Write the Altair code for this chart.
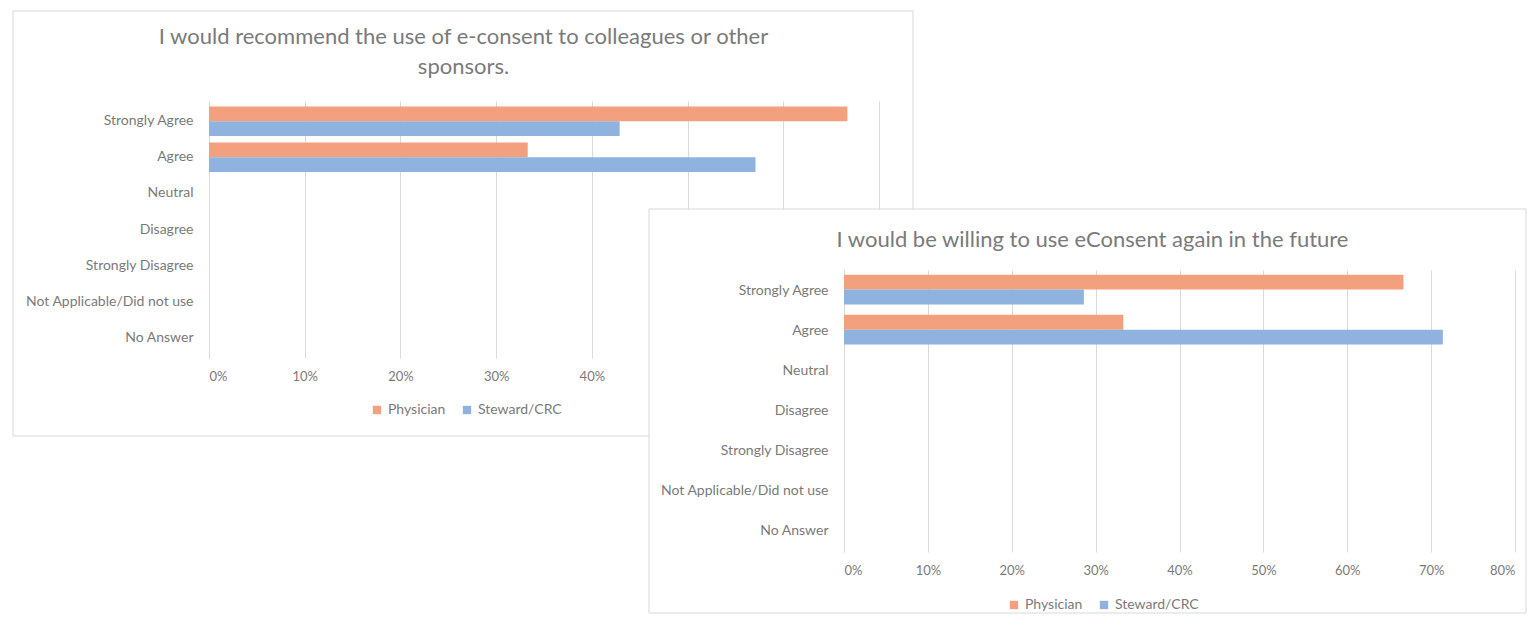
import altair as alt
import pandas as pd

categories = ["Strongly Agree", "Agree", "Neutral", "Disagree", "Strongly Disagree",
              "Not Applicable/Did not use", "No Answer"]
series = ["Physician", "Steward/CRC"]
colors = ["#F3A07F", "#8FB3DE"]

rec_physician = [0.667, 0.333, 0, 0, 0, 0, 0]
rec_steward = [0.429, 0.571, 0, 0, 0, 0, 0]
fut_physician = [0.667, 0.333, 0, 0, 0, 0, 0]
fut_steward = [0.286, 0.714, 0, 0, 0, 0, 0]

title1 = ["I would recommend the use of e-consent to colleagues or other", "sponsors."]
title2 = "I would be willing to use eConsent again in the future"

ticks1 = [0, 0.1, 0.2, 0.3, 0.4, 0.5, 0.6, 0.7]
ticks2 = [0, 0.1, 0.2, 0.3, 0.4, 0.5, 0.6, 0.7, 0.8]

FONT = "Lato"
TXT = "#7a7a7a"
GRID = "#d9d9d9"


def frame(phys, stew):
    rows = []
    for c, p, s in zip(categories, phys, stew):
        rows.append({"answer": c, "series": series[0], "value": p})
        rows.append({"answer": c, "series": series[1], "value": s})
    return pd.DataFrame(rows)


def bars(df, ticks, xmax, xrange, pin, pout, lx, ly):
    return alt.Chart(df).mark_bar().encode(
        x=alt.X("value:Q",
                scale=alt.Scale(domain=[0, xmax], nice=False, range=[0, xrange]),
                axis=alt.Axis(values=ticks, format=".0%", grid=True, gridColor=GRID,
                              domain=False, ticks=False, labelPadding=12, title=None,
                              labelFontSize=13, labelColor=TXT, labelFont=FONT)),
        y=alt.Y("answer:N", sort=categories,
                scale=alt.Scale(paddingInner=pin, paddingOuter=pout),
                axis=alt.Axis(title=None, ticks=False, domainColor=GRID, labelPadding=16,
                              grid=False, labelFontSize=14, labelColor=TXT, labelFont=FONT)),
        yOffset=alt.YOffset("series:N", sort=series),
        color=alt.Color("series:N", sort=series,
                        scale=alt.Scale(domain=series, range=colors),
                        legend=alt.Legend(title=None, orient="none", legendX=lx, legendY=ly,
                                          direction="horizontal", symbolType="square",
                                          symbolSize=70, symbolStrokeWidth=0,
                                          labelFontSize=14, labelColor=TXT, labelFont=FONT,
                                          columnPadding=14)),
    )


box_df = pd.DataFrame({"k": [0]})

box1 = alt.Chart(box_df).mark_rect(fillOpacity=0, stroke=GRID, strokeWidth=1).encode(
    x=alt.value(-196), x2=alt.value(704), y=alt.value(-90), y2=alt.value(335))

c1 = alt.layer(
    box1,
    bars(frame(rec_physician, rec_steward), ticks1, 0.7, 670, 0.18, 0.15, 161, 302),
).properties(
    width=635, height=257,
    title=alt.TitleParams(text=title1, anchor="middle", dx=-63, fontSize=22, font=FONT,
                          fontWeight="normal", color=TXT, offset=-68, lineHeight=30),
)

spacer = alt.Chart(box_df).mark_rect(fill="white", stroke=GRID, strokeWidth=1).encode(
    x=alt.value(-195), x2=alt.value(682), y=alt.value(108), y2=alt.value(512)
).properties(width=10, height=1)

c2 = bars(frame(fut_physician, fut_steward), ticks2, 0.8, 671, 0.2, 0.12, 163, 328).properties(
    width=671, height=282,
    title=alt.TitleParams(text=title2, anchor="middle", dx=-87, fontSize=22, font=FONT,
                          fontWeight="normal", color=TXT, offset=18),
)

right = alt.vconcat(spacer, c2, spacing=168, bounds="flush").resolve_legend(color="independent")

chart = alt.hconcat(c1, right, spacing=0, bounds="flush").resolve_legend(
    color="independent"
).properties(
    padding={"left": 4, "top": 2, "right": 0, "bottom": 0}
).configure_view(strokeWidth=0)

chart.save("out.html", embed_options={"renderer": "svg", "actions": False})
